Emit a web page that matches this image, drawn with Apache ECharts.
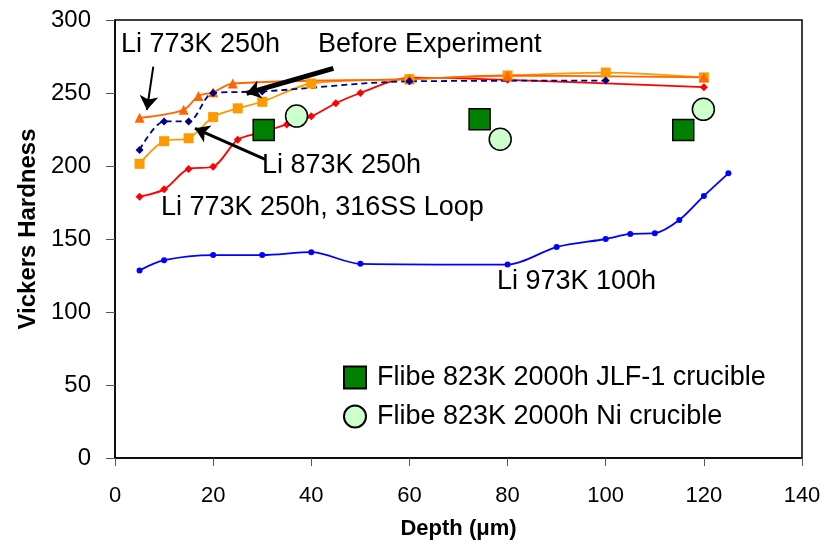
<!DOCTYPE html>
<html>
<head>
<meta charset="utf-8">
<script src="https://cdn.jsdelivr.net/npm/echarts@6/dist/echarts.min.js"></script>
<style>
  html, body { margin: 0; padding: 0; background: #fff; }
  #chart { width: 824px; height: 547px; }
</style>
</head>
<body>
<div id="chart"></div>
<script>
// depth (um) / Vickers hardness
var depthLoop = [5, 10, 15, 20, 25, 30, 35, 40, 45, 50, 60, 80, 120];
var hvLoop    = [179, 184, 198, 199.5, 218, 223, 228.5, 234, 243, 250, 260.5, 259, 254];

var depth773 = [5, 14, 17, 20, 24, 60, 80, 120];
var hv773    = [233, 238.5, 248, 250.5, 256.5, 259.5, 262, 260.7];

var depth873 = [5, 10, 15, 20, 25, 30, 40, 60, 80, 100, 120];
var hv873    = [201.5, 217, 219, 233.5, 239.5, 244, 256.5, 259.5, 262, 264, 260.7];

var depthBefore = [5, 10, 15, 20, 30, 60, 100];
var hvBefore    = [211, 230.5, 230.5, 250, 251, 258, 258.5];

var depth973 = [5, 10, 20, 30, 40, 50, 80, 90, 100, 105, 110, 115, 120, 125];
var hv973    = [128.5, 135.5, 139, 139, 141, 133, 132.5, 144.5, 150, 153.5, 154, 163, 179.5, 195];

var depthJLF = [30.3, 74.3, 115.8];
var hvJLF    = [224.7, 232, 224.7];

var depthNi = [37, 78.5, 119.9];
var hvNi    = [234.2, 218.3, 238.8];

var nameJLF = 'Flibe 823K 2000h JLF-1 crucible';
var nameNi  = 'Flibe 823K 2000h Ni crucible';

function pairs(xs, ys) {
    return xs.map(function (x, i) { return [x, ys[i]]; });
}

var FONT = '"Liberation Sans", Arial, sans-serif';

function lineSeries(name, xs, ys, color, symbol, size, dashed) {
    return {
        name: name,
        type: 'line',
        data: pairs(xs, ys),
        smooth: 0.3,
        symbol: symbol,
        symbolSize: size,
        showAllSymbol: true,
        lineStyle: { color: color, width: 1.8, type: dashed ? [6, 4] : 'solid' },
        itemStyle: { color: color },
        z: 3
    };
}

var myChart = echarts.init(document.getElementById('chart'));

myChart.setOption({
    animation: false,
    backgroundColor: '#fff',
    textStyle: { fontFamily: FONT },
    grid: {
        left: 115, right: 22, top: 20, bottom: 89,
        containLabel: false,
        outerBoundsMode: 'none',
        show: true, borderColor: '#000', borderWidth: 1.5
    },
    legend: {
        data: [nameJLF, nameNi],
        orient: 'vertical',
        left: 338,
        top: 359,
        itemWidth: 22,
        itemHeight: 22,
        itemGap: 12,
        textStyle: { fontSize: 27, color: '#000', fontFamily: FONT, padding: [0, 0, 0, 6] }
    },
    xAxis: {
        type: 'value',
        min: 0, max: 140, interval: 20,
        name: 'Depth (μm)',
        nameLocation: 'middle',
        nameGap: 60,
        nameTextStyle: { fontSize: 22, fontWeight: 'bold', color: '#000', fontFamily: FONT },
        axisLine: { lineStyle: { color: '#000', width: 1.5 } },
        axisTick: { show: true, length: 8, lineStyle: { color: '#555' } },
        axisLabel: { fontSize: 22, color: '#000', margin: 27 },
        splitLine: { show: false }
    },
    yAxis: {
        type: 'value',
        min: 0, max: 300, interval: 50,
        name: 'Vickers Hardness',
        nameLocation: 'middle',
        nameGap: 75,
        nameRotate: 90,
        nameTextStyle: { fontSize: 24, fontWeight: 'bold', color: '#000', fontFamily: FONT, padding: [0, 0, 0, 20] },
        axisLine: { show: true, lineStyle: { color: '#000', width: 1.5 } },
        axisTick: { show: true, length: 9, lineStyle: { color: '#555' } },
        axisLabel: { fontSize: 24, color: '#000', margin: 24 },
        splitLine: { show: false }
    },
    graphic: [
        { type: 'text', x: 121, y: 45, style: { text: 'Li 773K 250h', font: '27px ' + FONT, fill: '#000', verticalAlign: 'middle' } },
        { type: 'text', x: 318, y: 45, style: { text: 'Before Experiment', font: '27px ' + FONT, fill: '#000', verticalAlign: 'middle' } },
        { type: 'text', x: 262, y: 166, style: { text: 'Li 873K 250h', font: '27px ' + FONT, fill: '#000', verticalAlign: 'middle' } },
        { type: 'text', x: 161, y: 208, style: { text: 'Li 773K 250h, 316SS Loop', font: '27px ' + FONT, fill: '#000', verticalAlign: 'middle' } },
        { type: 'text', x: 497, y: 282, style: { text: 'Li 973K 100h', font: '27px ' + FONT, fill: '#000', verticalAlign: 'middle' } }
    ],
    series: [
        lineSeries('Li 773K 250h, 316SS Loop', depthLoop, hvLoop, '#FF0000', 'diamond', 8, false),
        lineSeries('Li 873K 250h', depth873, hv873, '#FF9900', 'rect', 10, false),
        lineSeries('Li 773K 250h', depth773, hv773, '#FF6600', 'triangle', 10, false),
        lineSeries('Before Experiment', depthBefore, hvBefore, '#000080', 'diamond', 8, true),
        lineSeries('Li 973K 100h', depth973, hv973, '#0000FF', 'circle', 6, false),
        {
            name: nameJLF,
            type: 'scatter',
            data: pairs(depthJLF, hvJLF),
            symbol: 'rect',
            symbolSize: 21,
            itemStyle: { color: '#008000', opacity: 1, borderColor: '#000', borderWidth: 1.5 },
            z: 5
        },
        {
            name: nameNi,
            type: 'scatter',
            data: pairs(depthNi, hvNi),
            symbol: 'circle',
            symbolSize: 22,
            itemStyle: { color: '#CCFFCC', opacity: 1, borderColor: '#000', borderWidth: 1.5 },
            z: 5
        },
        {
            // arrows pointing from the labels to their curves
            name: 'arrows',
            type: 'line',
            data: [],
            z: 6,
            markLine: {
                silent: true,
                symbol: ['none', 'arrow'],
                symbolSize: 14,
                label: { show: false },
                lineStyle: { color: '#000', type: 'solid', width: 2 },
                data: [
                    [{ coord: [7.8, 268], lineStyle: { width: 2 } }, { coord: [6.5, 238.4] }],
                    [{ coord: [44.5, 266.9], lineStyle: { width: 5 }, symbolSize: 18 }, { coord: [26.8, 249.8] }],
                    [{ coord: [30.6, 204.6], lineStyle: { width: 3 } }, { coord: [16.3, 225.8] }]
                ]
            }
        }
    ]
});
</script>
</body>
</html>
